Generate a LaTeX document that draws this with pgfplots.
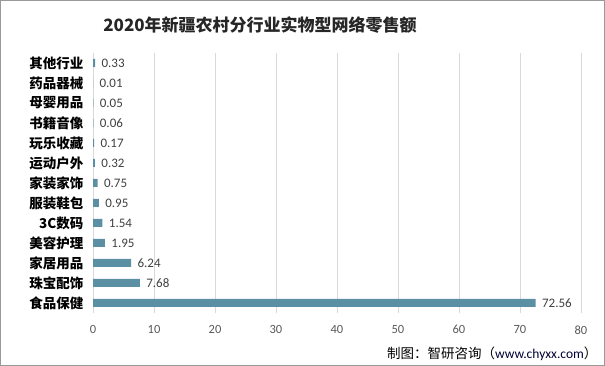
\documentclass[border=0pt]{standalone}
\usepackage{pgfplots}
\pgfplotsset{compat=1.18}
\usepackage{fontspec}
\setmainfont{Carlito}
\newfontfamily\cjk{Noto Sans CJK SC}
\definecolor{barc}{HTML}{5B8FA3}
\definecolor{gridc}{HTML}{D9D9D9}
\definecolor{tickc}{HTML}{595959}
\definecolor{valc}{HTML}{404040}
\begin{document}
\begin{tikzpicture}[x=1pt,y=1pt]
\draw[draw=black!40, fill=white, line width=1pt] (0.5,0.5) rectangle (604.5,365.5);
\node[font=\cjk\bfseries\fontsize{17}{20}\selectfont, text=black!85] at (260,341) {2020年新疆农村分行业实物型网络零售额};
\begin{axis}[
  at={(93pt,53pt)}, anchor=south west,
  scale only axis, width=488pt, height=260pt,
  xbar, bar width=8pt,
  xmin=0, xmax=80, ymin=-0.5, ymax=12.5,
  xtick={0,10,...,80},
  ytick={0,...,12},
  yticklabels={食品保健,珠宝配饰,家居用品,美容护理,3C数码,服装鞋包,家装家饰,运动户外,玩乐收藏,书籍音像,母婴用品,药品器械,其他行业},
  xmajorgrids, grid style={draw=gridc, line width=0.8pt},
  axis line style={draw=none},
  major tick length=0pt,
  yticklabel style={font=\cjk\bfseries\fontsize{13.5}{15}\selectfont, text=black, xshift=-6pt},
  xticklabel style={font=\fontsize{12.5}{14}\selectfont, text=tickc, yshift=-9pt},
  /pgf/number format/assume math mode=true,
  point meta=x,
  nodes near coords={\pgfmathprintnumber[fixed,fixed zerofill,precision=2]{\pgfplotspointmeta}},
  nodes near coords style={font=\fontsize{13}{15}\selectfont, text=valc, anchor=west, xshift=3pt},
  clip=false,
]
\addplot[fill=barc, draw=none] coordinates {
(72.56,0) (7.68,1) (6.24,2) (1.95,3) (1.54,4) (0.95,5) (0.75,6) (0.32,7) (0.17,8) (0.06,9) (0.05,10) (0.01,11) (0.33,12)};
\end{axis}
\node[anchor=east, font=\cjk\fontsize{13.5}{15}\selectfont, text=black] at (601,12) {制图：智研咨询（\textcolor{black!80!blue}{\fontspec{Carlito}www.chyxx.com}）};
\end{tikzpicture}
\end{document}
